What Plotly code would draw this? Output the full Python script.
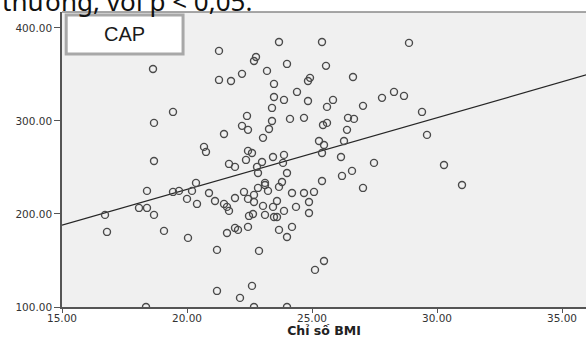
import plotly.graph_objects as go

# Scatter data: BMI (x) vs CAP (y)
bmi = [23.68, 21.28, 22.76, 22.68, 24.0, 18.64, 22.2, 23.2, 21.28, 21.76,
       23.48, 23.48, 23.88, 24.4, 23.4, 19.44, 22.4, 25.4, 28.88, 25.56,
       24.84, 24.92, 26.64, 24.84, 25.84, 25.6, 27.04, 27.8, 28.28, 28.68,
       29.4, 24.12, 24.68, 26.44, 26.68, 18.68, 22.2, 22.44, 23.4, 23.28,
       21.48, 23.04, 20.68, 20.76, 22.44, 22.6, 18.68, 22.36, 23.44, 23.88,
       21.68, 21.92, 23.0, 23.84, 22.8, 22.84, 24.0, 20.36, 23.12, 23.12,
       23.8, 23.68, 22.84, 23.24, 18.4, 19.44, 19.68, 20.2, 20.88, 22.28,
       24.2, 22.68, 20.0, 20.4, 21.12, 21.92, 22.44, 22.68, 23.6, 21.48,
       21.6, 21.68, 23.04, 23.44, 24.36, 18.08, 18.4, 18.68, 16.72, 22.48,
       22.64, 23.12, 23.48, 23.6, 23.88, 25.44, 25.6, 26.4, 25.28, 25.48,
       26.28, 29.6, 25.4, 26.16, 27.48, 30.28, 26.6, 26.2, 25.4, 27.04,
       31.0, 24.68, 25.08, 24.88, 24.88, 24.2, 16.8, 19.08, 20.04, 21.6,
       21.92, 22.04, 22.44, 23.68, 24.0, 21.2, 22.88, 21.2, 22.6, 22.12,
       18.36, 22.68, 24.0, 25.48, 25.12]
cap = [384.9, 375.3, 368.8, 364.5, 361.3, 355.9, 350.6, 353.8, 344.1, 343.0,
       339.8, 325.8, 322.6, 331.2, 314.0, 309.7, 305.4, 384.9, 383.9, 359.2,
       343.0, 346.3, 347.3, 321.5, 322.6, 315.1, 316.2, 324.8, 331.2, 326.9,
       309.7, 302.2, 303.3, 303.3, 302.2, 297.9, 294.7, 290.4, 300.0, 291.4,
       286.0, 281.8, 272.1, 266.7, 267.8, 265.6, 257.0, 258.1, 261.3, 263.5,
       253.8, 250.6, 255.9, 254.9, 250.6, 244.1, 244.1, 233.4, 233.4, 231.2,
       234.4, 229.1, 228.0, 224.8, 224.8, 223.7, 224.8, 224.8, 222.6, 223.7,
       222.6, 220.5, 216.2, 210.8, 214.0, 217.2, 216.2, 212.9, 214.0, 210.8,
       207.6, 203.3, 208.7, 207.6, 207.6, 206.5, 206.5, 199.0, 199.0, 197.9,
       200.0, 199.0, 196.8, 196.8, 203.3, 295.7, 297.9, 290.4, 278.5, 274.2,
       278.5, 285.0, 265.6, 261.3, 254.9, 252.7, 246.3, 240.9, 235.5, 228.0,
       231.2, 222.6, 223.7, 212.9, 201.1, 186.1, 180.7, 181.8, 174.3, 179.6,
       185.0, 182.9, 186.1, 182.9, 175.3, 161.4, 160.3, 117.3, 122.7, 109.8,
       100.0, 100.0, 100.0, 149.5, 139.9]

# Fit line endpoints
fit_x = [15.0, 36.0]
fit_y = [188.0, 349.7]

x_ticks = [15, 20, 25, 30, 35]
x_tick_labels = ["15.00", "20.00", "25.00", "30.00", "35.00"]
y_ticks = [100, 200, 300, 400]
y_tick_labels = ["100.00", "200.00", "300.00", "400.00"]

fig = go.Figure()
fig.add_trace(go.Scatter(
    x=fit_x, y=fit_y, mode="lines",
    line=dict(color="#262626", width=1.2), hoverinfo="skip", showlegend=False))
fig.add_trace(go.Scatter(
    x=bmi, y=cap, mode="markers",
    marker=dict(symbol="circle-open", size=7, color="#4a4a4a", line=dict(width=1.4, color="#4a4a4a")),
    showlegend=False))

fig.update_layout(
    width=586, height=338,
    margin=dict(l=62, r=0, t=12, b=31),
    paper_bgcolor="white",
    plot_bgcolor="#f0f0f0",
    font=dict(family="DejaVu Sans", color="#333333"),
    xaxis=dict(
        range=[15, 35.96], tickvals=x_ticks, ticktext=x_tick_labels,
        showgrid=False, zeroline=False, showline=True, linecolor="#555555", linewidth=1.5,
        ticks="outside", ticklen=4, tickcolor="#555555", tickfont=dict(size=10.5, color="#333333"),
        ticklabelstandoff=-3,
        automargin=False,
        title=dict(text="<b>Chỉ số BMI</b>", font=dict(size=12.5, color="#222222", family="DejaVu Sans"), standoff=3),
    ),
    yaxis=dict(
        range=[100, 417.1], tickvals=y_ticks, ticktext=y_tick_labels,
        showgrid=False, zeroline=False, showline=True, linecolor="#555555", linewidth=1.5,
        ticks="outside", ticklen=6, tickcolor="#555555", tickfont=dict(size=10.5, color="#333333"),
        automargin=False,
    ),
    shapes=[
        dict(type="line", xref="paper", yref="paper", x0=0, x1=1, y0=1, y1=1,
             line=dict(color="#8a8a8a", width=1.5)),
        dict(type="rect", xref="paper", yref="paper", x0=0.008, x1=0.231, y0=0.858, y1=0.99,
             fillcolor="white", line=dict(color="#a8a8a8", width=3), layer="above"),
    ],
    annotations=[
        dict(text="CAP", xref="paper", yref="paper", x=0.1195, y=0.924, showarrow=False,
             xanchor="center", yanchor="middle", font=dict(size=20, color="#1a1a1a", family="Liberation Sans")),
        dict(text="thường, với p < 0,05.", xref="paper", yref="paper", x=-0.118, y=0.968,
             xanchor="left", yanchor="bottom", showarrow=False,
             font=dict(size=26, color="#111111", family="Noto Sans")),
    ],
)

fig.write_html("out.html", config={"displayModeBar": False},
               post_script="document.body.style.margin='0';document.body.style.overflow='hidden';")
